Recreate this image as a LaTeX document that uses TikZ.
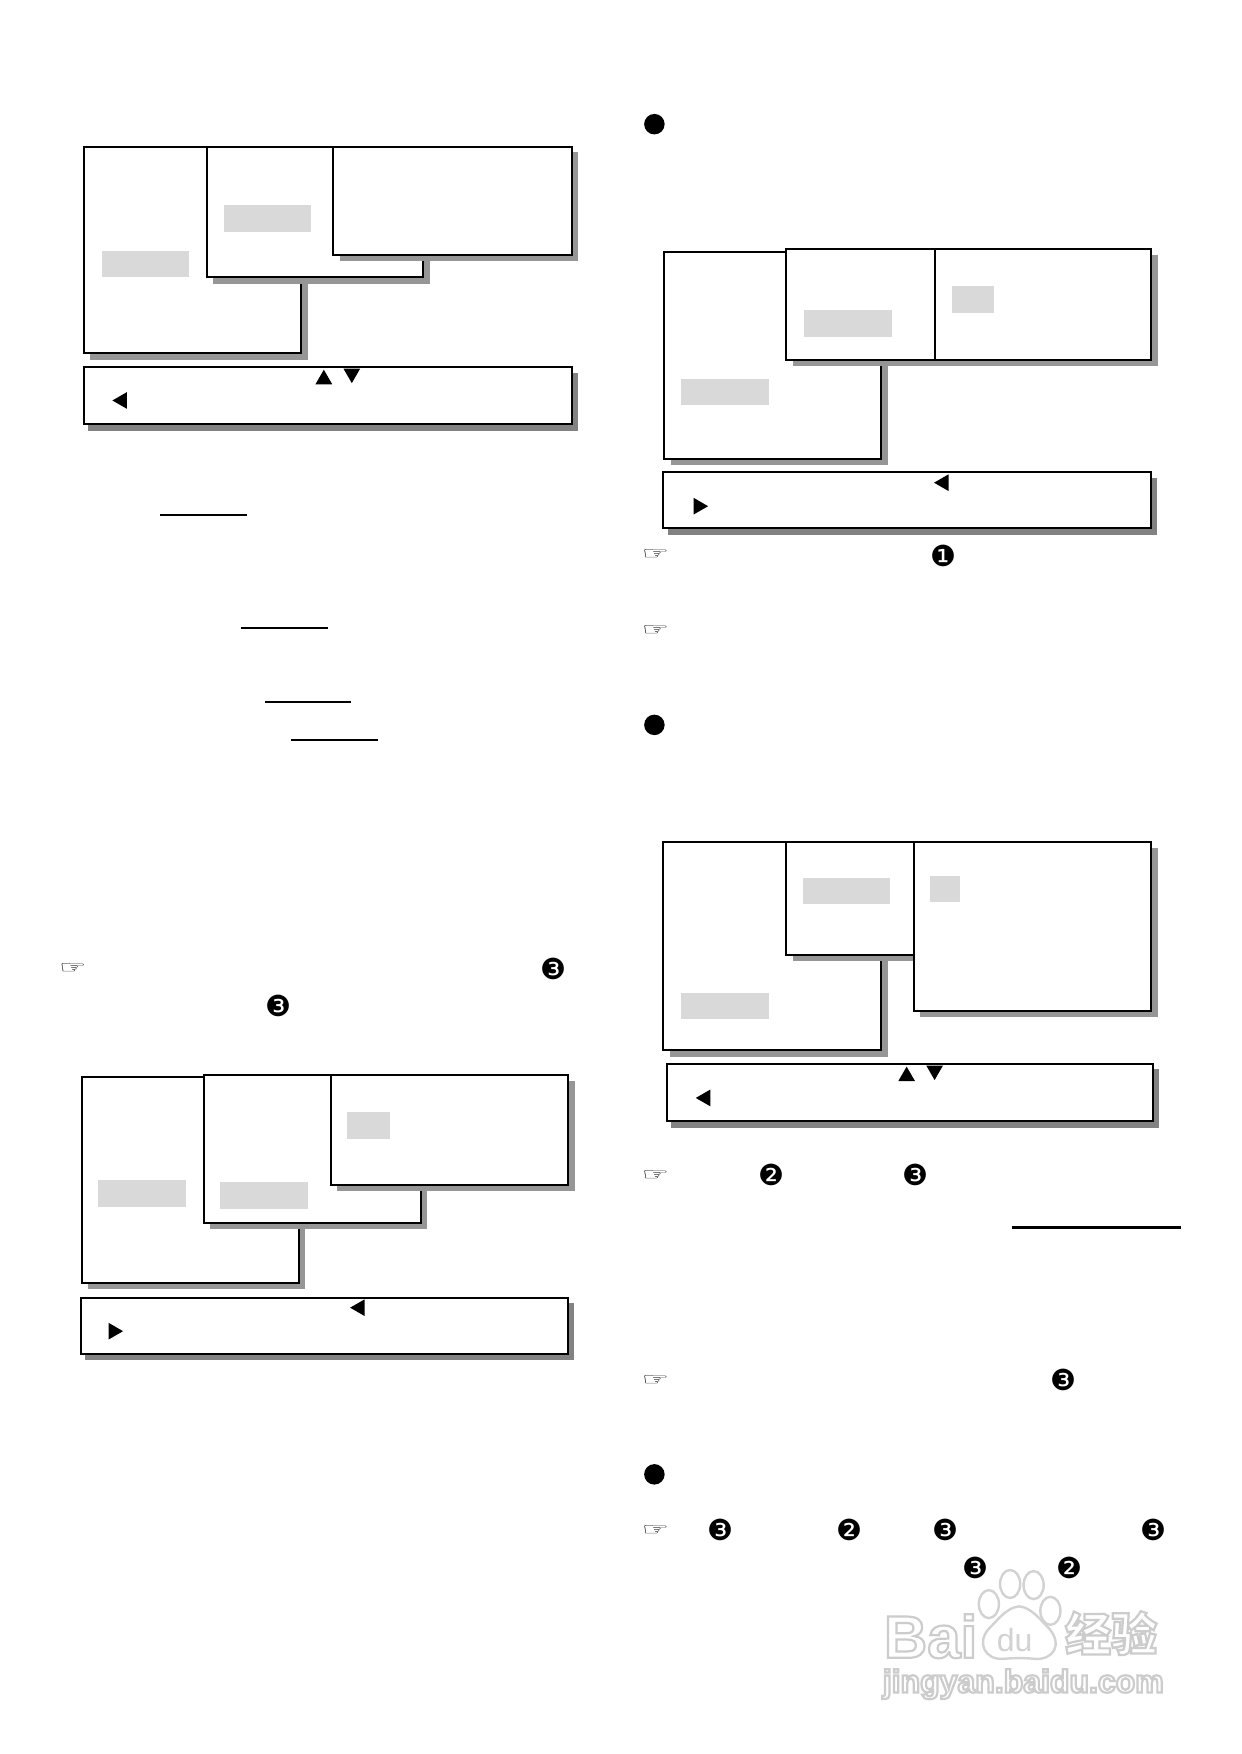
\documentclass[tikz,border=0pt]{standalone}
\usepackage{fontspec}
\setmainfont{Liberation Sans}
\newfontfamily\djv{DejaVu Sans}
\newfontfamily\cjkf{Noto Sans CJK SC}
\definecolor{shadowc}{HTML}{969696}
\definecolor{barshadow}{HTML}{828282}
\definecolor{hilite}{HTML}{D9D9D9}
\definecolor{wmark}{HTML}{D2D2D2}
\tikzset{
  frame/.style={draw=black,line width=2pt,fill=white,line join=miter},
  drop/.style={fill=shadowc},
  bardrop/.style={fill=barshadow},
  hl/.style={fill=hilite},
  rule/.style={draw=black,line width=2.6pt},
  mark glyph/.style={font=\djv\fontsize{29}{29}\selectfont,inner sep=0pt,text=black},
  hand glyph/.style={font=\djv\fontsize{29}{29}\selectfont,inner sep=0pt,text=black},
  dot/.style={circle,fill=black,inner sep=0pt,minimum size=20.5pt},
  wm/.style={inner sep=0pt,anchor=base west,text=white},
  pawline/.style={draw=wmark,line width=2.4pt,fill=white},
}
\newcommand{\hand}{\scalebox{1.05}[0.6]{☞}}
\newcommand{\panel}[4]{%
  \fill[drop] (#1+5.5,#2+5) rectangle (#3+6,#4+5.5);
  \draw[frame] (#1,#2) rectangle (#3,#4);}
\newcommand{\barpanel}[4]{%
  \fill[bardrop] (#1+4,#2+5) rectangle (#3+5.5,#4+6);
  \draw[frame] (#1,#2) rectangle (#3,#4);}
\newcommand{\hlbox}[4]{\fill[hl] (#1,#2) rectangle (#3,#4);}
\newcommand{\tup}[2]{\fill[black] (#1,#2) ++(-7.5,6.5) -- ++(15,0) -- ++(-7.5,-13) -- cycle;}
\newcommand{\tdown}[2]{\fill[black] (#1,#2) ++(-7.5,-6.5) -- ++(15,0) -- ++(-7.5,13) -- cycle;}
\newcommand{\tleft}[2]{\fill[black] (#1,#2) ++(6.5,-7.5) -- ++(0,15) -- ++(-13,-7.5) -- cycle;}
\newcommand{\tright}[2]{\fill[black] (#1,#2) ++(-6.5,-7.5) -- ++(0,15) -- ++(13,-7.5) -- cycle;}
\newcommand{\outlinetext}[1]{\special{pdf:code q 1 Tr 0.8 G 2.2 w}#1\special{pdf:code Q}}
\begin{document}
\begin{tikzpicture}[x=1.1189pt,y=-1.1189pt]
\useasboundingbox (0,0) rectangle (1110,1568);
\fill[white] (0,0) rectangle (1110,1568);

% watermark
\draw[pawline] (884,1434) ellipse (9 and 12.5);
\draw[pawline] (903,1416) ellipse (9 and 12.5);
\draw[pawline] (924,1417) ellipse (9 and 12.5);
\draw[pawline] (939,1440) ellipse (9 and 12.5);
\draw[pawline] (911,1436) .. controls (922,1437) and (930,1448) .. (938,1456)
   .. controls (950,1470) and (942,1484) .. (925,1483)
   .. controls (918,1482) and (905,1482) .. (897,1483)
   .. controls (880,1484) and (873,1468) .. (884,1456)
   .. controls (892,1448) and (900,1437) .. (911,1436) -- cycle;
\node[wm,font=\bfseries\fontsize{60}{60}\selectfont] (w1) at (790,1482) {\outlinetext{Bai}};
\node[wm,font=\fontsize{32}{32}\selectfont,text=wmark] (w2) at (891,1476) {du};
\node[wm,font=\cjkf\bfseries\fontsize{46}{46}\selectfont] (w3) at (952,1476) {\outlinetext{经验}};
\node[wm,font=\bfseries\fontsize{32}{32}\selectfont] (w4) at (789,1513) {\outlinetext{jingyan.baidu.com}};

% group 1, upper left
\panel{75}{131}{269}{316}
\hlbox{91}{224}{169}{248}
\panel{185}{131}{378}{248}
\hlbox{200}{183}{278}{207}
\panel{298}{131}{511}{228}
\barpanel{75}{328}{511}{379}
\tup{289.5}{337}
\tdown{314.5}{336}
\tleft{107}{358}

% rules, left column
\draw[rule] (143,460.5) -- (221,460.5);
\draw[rule] (215,561.5) -- (293,561.5);
\draw[rule] (237,627.5) -- (314,627.5);
\draw[rule] (260,661.5) -- (338,661.5);

\node[hand glyph] (h1) at (65,866) {\hand};
\node[mark glyph] (m1) at (495,866) {❸};
\node[mark glyph] (m2) at (249,899) {❸};

% group 2, lower left
\panel{73}{963}{267}{1147}
\hlbox{88}{1055}{166}{1079}
\panel{182}{961}{376}{1093}
\hlbox{197}{1057}{275}{1081}
\panel{296}{961}{508}{1059}
\hlbox{310}{994}{349}{1018}
\barpanel{72}{1160}{508}{1210}
\tleft{319.5}{1169}
\tright{103.5}{1190}

% group 3, upper right
\node[dot] (d1) at (585,111) {};
\panel{594}{225}{788}{410}
\hlbox{609}{339}{687}{362}
\panel{703}{223}{836}{322}
\hlbox{719}{277}{797}{301}
\panel{836}{223}{1029}{322}
\hlbox{851}{256}{889}{280}
\draw[black,line width=1.6pt] (836,223) -- (836,322);
\barpanel{593}{422}{1029}{472}
\tleft{841.5}{431.5}
\tright{626.5}{452.5}
\node[hand glyph] (h2) at (586,496) {\hand};
\node[mark glyph] (m3) at (843,497) {❶};
\node[hand glyph] (h3) at (586,564) {\hand};

% group 4, middle right
\node[dot] (d2) at (585,648) {};
\panel{593}{753}{788}{939}
\hlbox{609}{888}{687}{911}
\panel{703}{753}{817}{854}
\hlbox{718}{785}{796}{808}
\panel{817}{753}{1029}{904}
\hlbox{831}{783}{858}{806}
\barpanel{596}{951}{1031}{1002}
\tup{810.5}{960}
\tdown{835.5}{959}
\tleft{628.5}{981.5}
\node[hand glyph] (h4) at (586,1051) {\hand};
\node[mark glyph] (m4) at (690,1050) {❷};
\node[mark glyph] (m5) at (818,1050) {❸};
\draw[rule] (905,1097.5) -- (1056,1097.5);
\node[hand glyph] (h5) at (586,1234) {\hand};
\node[mark glyph] (m6) at (951,1234) {❸};

% last section
\node[dot] (d3) at (585,1318) {};
\node[hand glyph] (h6) at (586,1368) {\hand};
\node[mark glyph] (m7) at (644,1368) {❸};
\node[mark glyph] (m8) at (759,1368) {❷};
\node[mark glyph] (m9) at (845,1368) {❸};
\node[mark glyph] (m10) at (1031,1368) {❸};
\node[mark glyph] (m11) at (872,1402) {❸};
\node[mark glyph] (m12) at (956,1402) {❷};
\end{tikzpicture}
\end{document}
